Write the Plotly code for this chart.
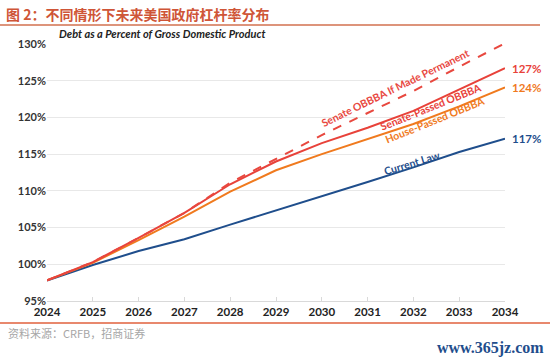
import plotly.graph_objects as go

years = list(range(2024, 2035))
current_law = [97.8, 99.9, 101.8, 103.4, 105.4, 107.3, 109.2, 111.2, 113.2, 115.3, 117.1]
house_passed = [97.8, 100.2, 103.3, 106.5, 109.9, 112.8, 115.0, 117.0, 119.1, 121.5, 124.1]
senate_passed = [97.8, 100.3, 103.6, 107.0, 110.9, 114.0, 116.5, 118.6, 120.9, 123.8, 126.7]
senate_perm = [97.8, 100.3, 103.6, 107.0, 111.1, 114.3, 117.6, 120.6, 123.6, 126.9, 130.1]
end_labels = ["117%", "124%", "127%", "130%"]
y_ticks = [95, 100, 105, 110, 115, 120, 125, 130]

BLUE = "#1F4E8C"
ORANGE = "#F07A1E"
RED = "#E8423A"
RED_D = "#E8483F"
FONT = "Lato"

fig = go.Figure()
series = [
    ("Current Law", current_law, BLUE, "solid"),
    ("House-Passed OBBBA", house_passed, ORANGE, "solid"),
    ("Senate-Passed OBBBA", senate_passed, RED, "solid"),
    ("Senate OBBBA If Made Permanent", senate_perm, RED_D, "dash"),
]
for name, vals, col, dash in series:
    fig.add_trace(go.Scatter(x=years, y=vals, mode="lines", name=name,
                             line=dict(color=col, width=2, dash=dash)))

# end labels
for (name, vals, col, dash), lab in zip(series, end_labels):
    fig.add_annotation(x=years[-1], y=vals[-1], text="<b>%s</b>" % lab, showarrow=False,
                       xanchor="left", xshift=5, font=dict(family=FONT, size=11.5, color=col))

# in-line labels
inline = [
    ("Current Law", 2031.97, 113.8, -17, BLUE),
    ("House-Passed OBBBA", 2032.47, 119.6, -22, ORANGE),
    ("Senate-Passed OBBBA", 2032.38, 121.4, -22, RED),
    ("Senate OBBBA If Made Permanent", 2031.6, 124.0, -26, RED_D),
]
for t, x, y, ang, col in inline:
    fig.add_annotation(x=x, y=y, text="<b>%s</b>" % t, showarrow=False, textangle=ang,
                       font=dict(family=FONT, size=10.5, color=col))

# inner title
fig.add_annotation(xref="paper", yref="paper", x=(57 - 47) / 458, y=(301 - 34) / 257,
                   text="<b><i>Debt as a Percent of Gross Domestic Product</i></b>",
                   showarrow=False, xanchor="left", yanchor="middle",
                   font=dict(family=FONT, size=11, color="#222"))

# figure title
fig.add_annotation(xref="paper", yref="paper", x=(4 - 47) / 458, y=(301 - 14) / 257,
                   text="<b>图 2：不同情形下未来美国政府杠杆率分布</b>", showarrow=False,
                   xanchor="left", yanchor="middle",
                   font=dict(family="Noto Sans CJK SC", size=14, color="#CF5537"))
# source
fig.add_annotation(xref="paper", yref="paper", x=(6 - 47) / 458, y=(301 - 333) / 257,
                   text="资料来源：CRFB，招商证券", showarrow=False,
                   xanchor="left", yanchor="middle",
                   font=dict(family="Noto Sans CJK SC", size=11, color="#A6A6A6"))
# watermark
fig.add_annotation(xref="paper", yref="paper", x=(546 - 47) / 458, y=(301 - 348) / 257,
                   text="<b>www.365jz.com</b>", showarrow=False,
                   xanchor="right", yanchor="middle",
                   font=dict(family="Liberation Serif", size=16, color="#1F4E8C"))

# separator lines
fig.add_shape(type="line", xref="paper", yref="paper", x0=(0 - 47) / 458, x1=(540 - 47) / 458,
              y0=(301 - 25) / 257, y1=(301 - 25) / 257, line=dict(color="#D2704F", width=1.5))
fig.add_shape(type="line", xref="paper", yref="paper", x0=(0 - 47) / 458, x1=(550 - 47) / 458,
              y0=(301 - 323) / 257, y1=(301 - 323) / 257, line=dict(color="#E0613D", width=1.5))

fig.update_layout(
    width=550, height=359,
    margin=dict(l=47, r=45, t=44, b=58),
    paper_bgcolor="white", plot_bgcolor="white",
    showlegend=False,
    font=dict(family=FONT),
)
fig.update_xaxes(range=[2024, 2034], tickmode="array", tickvals=years,
                 ticktext=["<b>%d</b>" % y for y in years],
                 showgrid=False, zeroline=False, showline=True, linecolor="#D9D9D9",
                 ticks="inside", ticklen=4, tickcolor="#D9D9D9",
                 tickfont=dict(family=FONT, size=11.5, color="#222"))
fig.update_yaxes(range=[95, 130], tickmode="array", tickvals=y_ticks,
                 ticktext=["<b>%d%%</b>" % v for v in y_ticks],
                 showgrid=True, gridcolor="#E8E8E8", gridwidth=1, zeroline=False,
                 ticks="", tickfont=dict(family=FONT, size=11, color="#333"))

fig.write_html("out.html", config={"displayModeBar": False},
               post_script="document.body.style.margin='0';document.body.style.overflow='hidden';")
